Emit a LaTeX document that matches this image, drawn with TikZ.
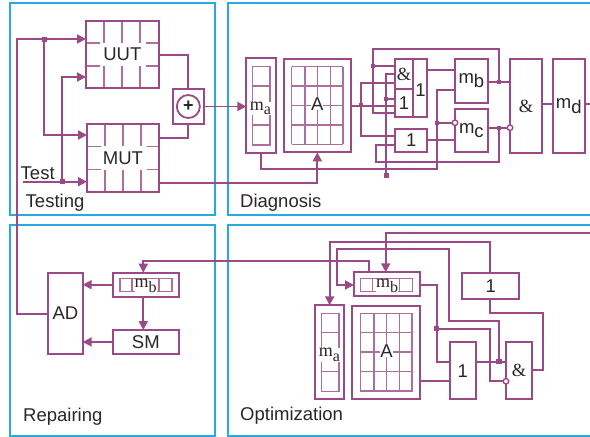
\documentclass[tikz,border=0pt]{standalone}
\usepackage{fontspec}
\setmainfont{Liberation Sans}
\newfontfamily\serifpart{Liberation Serif}
\usetikzlibrary{calc,arrows.meta}
\definecolor{wirepurple}{HTML}{9A4A86}
\definecolor{framecyan}{HTML}{29A9E1}
\definecolor{inkgrey}{HTML}{2A2627}
\newcommand{\msub}[1]{{\serifpart\fontsize{18}{18}\selectfont m\raisebox{-4.5pt}{\fontsize{16}{16}\selectfont #1}}}
\newcommand{\msans}[1]{m\raisebox{-4.5pt}{#1}}
\tikzstyle{frame}  = [draw=framecyan,line width=1.8pt]
\tikzstyle{wire}   = [draw=wirepurple,line width=1.8pt]
\tikzstyle{arrow}  = [wire,-{Stealth[inset=0pt,length=9pt,width=9pt]}]
\tikzstyle{cell}   = [draw=wirepurple!80,line width=1.2pt]
\tikzstyle{tag}    = [inner sep=0pt,text=inkgrey]
\tikzstyle{box}    = [rectangle,draw=wirepurple,line width=1.8pt,inner sep=0pt,outer sep=0pt,text=inkgrey]
\begin{document}
\begin{tikzpicture}[
			x=1pt,y=-1pt,
			every node/.append style={font=\fontsize{18.5}{20}\selectfont},
			joint/.style={rectangle,fill=wirepurple,minimum size=5pt,inner sep=0pt,outer sep=0pt},
			notc/.style={circle,draw=wirepurple,line width=1.4pt,fill=white,minimum size=5.5pt,inner sep=0pt,outer sep=0pt}
		]
		\useasboundingbox (0,0) rectangle (590,437);
		\draw[frame] (10,3) rectangle (215,215);
		\draw[frame] (590,3) -- (228,3) -- (228,215) -- (590,215);
		\draw[frame] (10,224.7) rectangle (215,436);
		\draw[frame] (590,224.7) -- (228,224.7) -- (228,436) -- (590,436);

		\foreach \x in {104,122,140} {
				\draw[cell] (\x,20.7) -- (\x,43);
				\draw[cell] (\x,66) -- (\x,88);
				\draw[cell] (\x+1,124) -- (\x+1,146);
				\draw[cell] (\x+1,170) -- (\x+1,192);
			}
		\foreach \y in {43,66} {
				\draw[cell] (86,\y) -- (100,\y);
				\draw[cell] (146,\y) -- (158.7,\y);
				\draw[cell] (87,\y+103.5) -- (101,\y+103.5);
				\draw[cell] (147,\y+103.5) -- (159,\y+103.5);
			}
		\foreach \x/\y in {252.3/0,321.3/246.6} {
				\draw[cell] (\x,66.7+\y) rectangle (\x+17.7,145+\y);
				\draw[cell] (\x,86+\y) -- (\x+17.7,86+\y);
				\draw[cell] (\x,125+\y) -- (\x+17.7,125+\y);
			}
		\foreach \x in {291.7,305,317.7,330.3,343} {
				\draw[cell] (\x,66.7) -- (\x,144.3);
				\draw[cell] (\x+69,313.3) -- (\x+69,391.7);
			}
		\foreach \y in {66.7,86,105.3,125,144.3} {
				\draw[cell] (291.7,\y) -- (343,\y);
				\draw[cell] (360.7,\y+246.6) -- (412,\y+246.6);
			}
		\foreach \x/\y in {120/278.7,360.7/278.5} {
				\draw[cell] (\x,\y) rectangle (\x+52,\y+12.7);
				\draw[cell] (\x+12,\y) -- (\x+12,\y+12.7);
				\draw[cell] (\x+39,\y) -- (\x+39,\y+12.7);
			}

		\node[box,minimum width=72.7pt,minimum height=67.3pt] (uut) at (122.35,54.35) {UUT};
		\node[box,minimum width=72pt,minimum height=68pt] (mut) at (123,158) {MUT};
		\node[box,minimum width=31.3pt,minimum height=35pt] (xor) at (188.35,106.5) {};
		\node[circle,draw=wirepurple,line width=1.8pt,minimum size=23pt,inner sep=0pt,text=inkgrey] (xorc) at (xor.center) {\fontsize{18}{18}\selectfont\bfseries +};
		\node[box,minimum width=29.4pt,minimum height=94.4pt] (ma) at (261,105.5) {};
		\node[box,minimum width=67.3pt,minimum height=93.3pt] (aa) at (317.35,105.65) {};
		\node[box,minimum width=32.3pt,minimum height=57.4pt] (gA) at (411.15,88) {};
		\node[box,minimum width=32.3pt,minimum height=23pt] (gB) at (411.15,140.2) {1};
		\node[box,minimum width=32.7pt,minimum height=44pt] (mbb) at (471.35,80.7) {\msans{b}};
		\node[box,minimum width=32.7pt,minimum height=43pt] (mcc) at (471.35,130.8) {\msans{c}};
		\node[box,minimum width=32pt,minimum height=93.4pt] (gC) at (526,106) {{\serifpart\&}};
		\node[box,minimum width=32pt,minimum height=93.4pt] (md) at (568.7,106) {\msans{d}};

		\node[box,minimum width=34.4pt,minimum height=81.6pt] (ad) at (65.5,313.5) {AD};
		\node[box,minimum width=66.3pt,minimum height=24pt] (mbr) at (145.85,284.7) {};
		\node[box,minimum width=66.3pt,minimum height=24pt] (sm) at (145.85,342) {SM};
		\node[box,minimum width=66pt,minimum height=23.7pt] (mbo) at (387,284.15) {};
		\node[box,minimum width=29.3pt,minimum height=94pt] (mao) at (329.65,352.3) {};
		\node[box,minimum width=67.7pt,minimum height=93.3pt] (aao) at (386.15,352.35) {};
		\node[box,minimum width=57pt,minimum height=26pt] (one) at (490.8,286.3) {1};
		\node[box,minimum width=26pt,minimum height=57pt] (oro) at (462.7,370.8) {1};
		\node[box,minimum width=26.3pt,minimum height=57pt] (ando) at (519.15,370.2) {{\serifpart\&}};

		\draw[wire] (gA.west |- 0,89.3) -- (413.3,89.3);
		\draw[wire] (413.3,59.3) -- (413.3,116.7);
		\node[tag] (tAnd) at (404,74) {{\serifpart\&}};
		\node[tag] (tOa) at (404,103.5) {1};
		\node[tag] (tOb) at (420.5,90) {1};
		\node[tag,fill=white] (tMa) at (260.5,108.5) {\msub{a}};
		\node[tag,fill=white] (tA) at (317.3,104) {A};
		\node[tag,fill=white] (tMbr) at (145.5,286) {\msub{b}};
		\node[tag,fill=white] (tMbo) at (387,286) {\msub{b}};
		\node[tag,fill=white] (tMao) at (329.5,355) {\msub{a}};
		\node[tag,fill=white] (tAo) at (386.5,351) {A};

		\node[tag,anchor=west] (tTest) at (20.5,173) {Test};
		\node[tag,anchor=west] (tTesting) at (25.5,203) {Testing};
		\node[tag,anchor=west] (tDiag) at (240,203) {Diagnosis};
		\node[tag,anchor=west] (tRep) at (23,416.5) {Repairing};
		\node[tag,anchor=west] (tOpt) at (240,415.5) {Optimization};

		\coordinate (tin) at (22.7,181.7);
		\coordinate (oin) at (590,233.3);
		\coordinate (dout) at (590,104.3);
		\node[joint] (jtA) at (44,39) {};
		\node[joint] (jtB) at (62.3,181.7) {};
		\node[joint,minimum size=4pt] (jdA) at (361,105) {};
		\node[joint,minimum size=4pt] (jdB) at (372.7,65.7) {};
		\node[joint,minimum size=4pt] (jdC) at (386.3,98.7) {};
		\node[joint] (jdD) at (386.3,175) {};
		\node[joint,minimum size=4pt] (jdE) at (436.7,122.7) {};
		\node[joint,minimum size=4pt] (jmb) at (499.3,82.3) {};
		\node[joint,minimum size=4pt] (jmc) at (499.3,127.7) {};
		\node[joint,minimum size=5.5pt] (joA) at (436.7,328.7) {};
		\node[joint,minimum size=5.5pt] (joB) at (499,361.7) {};

		\draw[arrow] (ad.west |- 0,314) -| (17,39) -- (uut.west |- jtA);
		\draw[arrow] (jtA) |- (mut.west |- 0,135);
		\draw[arrow] (jtB) |- (uut.west |- 0,77);
		\draw[arrow] (tin) -- (mut.west |- tin);
		\draw[wire] (uut.east |- 0,55) -| (xor.north);
		\draw[wire] (mut.east |- 0,138) -| (xor.south);
		\draw[arrow] (xor.east) -- (ma.west |- xor.east);
		\draw[arrow] (mut.east |- 0,183) -| (aa.south);

		\draw[wire] (aa.east) -- (gA.west |- aa.east);
		\draw[wire] (gA.west |- 0,82.7) -| (jdA) |- (gB.west |- 0,136);
		\draw[wire] (jmb) |- (372.7,49.3) -- (372.7,112.7) -- (gA.west |- 0,112.7);
		\draw[wire] (jdB) -- (gA.west |- jdB);
		\draw[wire] (jdD) |- (gA.west |- 0,74);
		\draw[wire] (jdC) -- (gA.west |- jdC);
		\draw[wire] (gA.east |- 0,69.7) -- (mbb.west |- 0,69.7);
		\draw[wire] (ma.south) |- (436.7,168.7) |- (mbb.west |- 0,90);
		\draw[wire] (gB.east) -- (mcc.west |- gB.east);
		\draw[wire] (mbb.east |- jmb) -- (gC.west |- jmb);
		\draw[wire] (jmc) |- (376,161.7) |- (gB.west |- 0,145);
		\draw[wire] (gC.east |- dout) -- (md.west |- dout);
		\draw[wire] (md.east |- dout) -- (dout);

		\draw[arrow] (mbr.west) -- (ad.east |- mbr.west);
		\draw[arrow] (sm.west) -- (ad.east |- sm.west);
		\draw[arrow] (mbr.south -| 143.3,0) -- (sm.north -| 143.3,0);
		\draw[arrow] (mbo.north -| 369.3,0) |- (143.3,260.7) -- (mbr.north -| 143.3,0);

		\draw[arrow] (oin) -| (mbo.north -| 385.7,0);
		\draw[arrow] (one.north -| 489.7,0) |- (mao.north |- 0,241.7) -- (mao.north);
		\draw[arrow] (joB) |- (449,321) |- (337.3,249) |- (mbo.west |- 0,285);
		\draw[wire] (one.south -| 489.7,0) |- (543.3,313.3) |- (ando.east |- 0,370);
		\draw[wire] (aao.east |- 0,381) -- (oro.west |- 0,381);
		\draw[wire] (mbo.east |- 0,284.7) -| (joA) |- (oro.west |- 0,361.7);
		\draw[wire] (oro.east |- joB) -- (ando.west |- joB);

		\node[notc] (nA) at (455,122.7) {};
		\node[notc] (nB) at (510,127.7) {};
		\node[notc] (nC) at (506,381.3) {};
		\draw[wire] (jdE) -- (nA);
		\draw[wire] (mcc.east |- nB) -- (nB);
		\draw[wire] (joA) -| (489.7,381.3) -- (nC);
	\end{tikzpicture}
\end{document}
